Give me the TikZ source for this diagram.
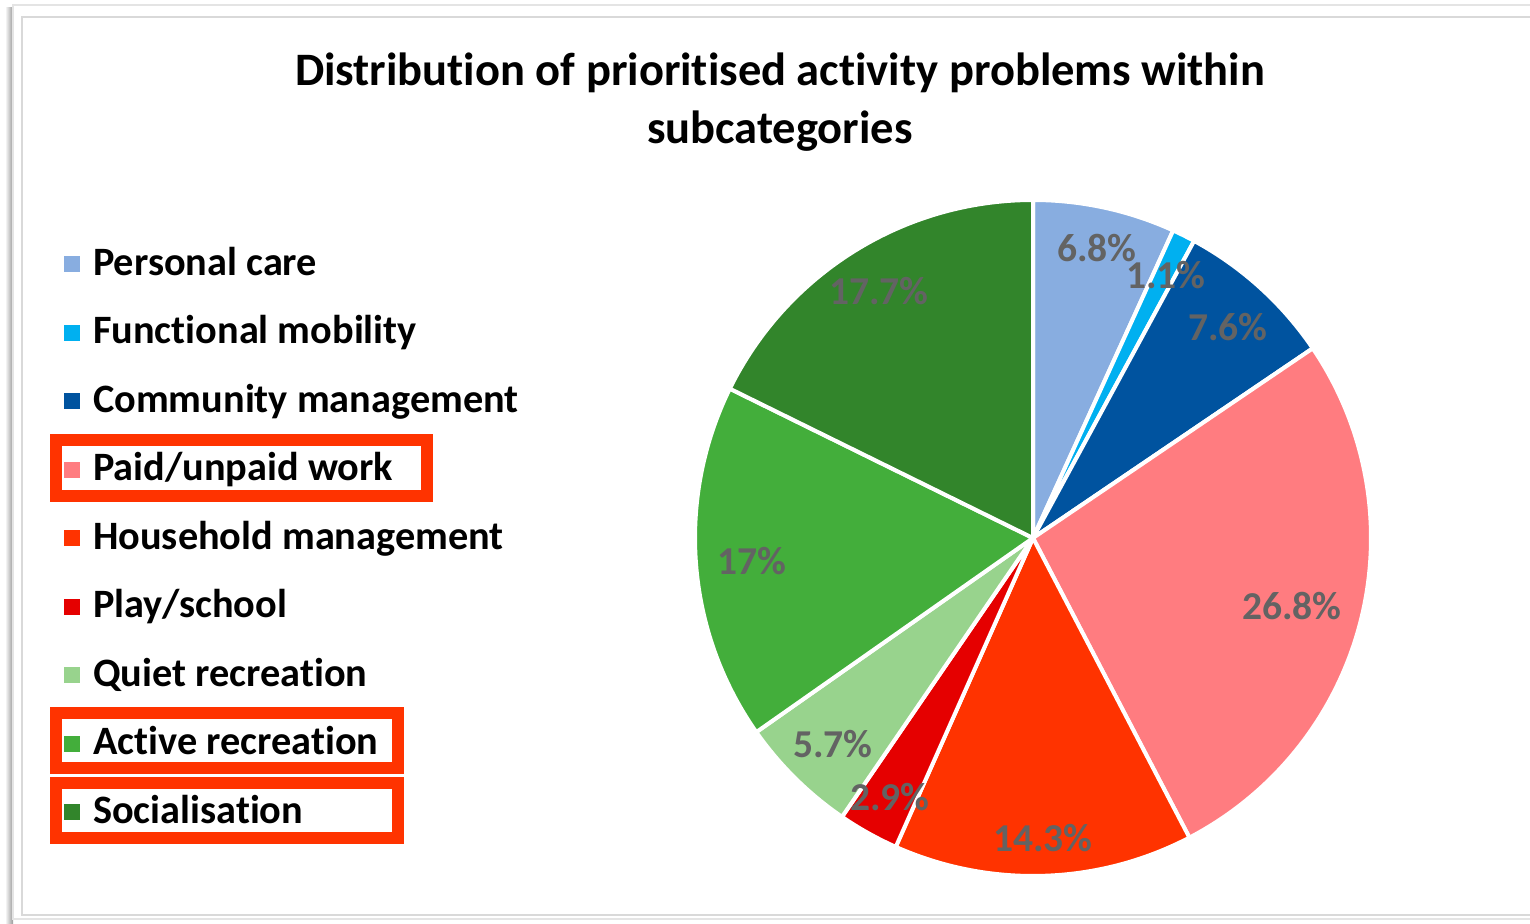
\documentclass[tikz,border=0pt]{standalone}
\usepackage{fontspec}
\setmainfont{Carlito}[RawFeature={-liga;-dlig;-clig}]
\definecolor{pc}{HTML}{88ADE0}
\definecolor{fm}{HTML}{00B0F0}
\definecolor{cm}{HTML}{00539F}
\definecolor{pw}{HTML}{FF7C80}
\definecolor{hm}{HTML}{FF3300}
\definecolor{ps}{HTML}{E50000}
\definecolor{qr}{HTML}{98D38D}
\definecolor{ar}{HTML}{43AE3B}
\definecolor{so}{HTML}{32852B}
\definecolor{lbl}{HTML}{636363}
\definecolor{hl}{HTML}{FF3300}
\definecolor{frame}{HTML}{D9D9D9}
\begin{document}
\begin{tikzpicture}[x=1pt,y=1pt,
  slice/.style={draw=white,line width=4pt,line join=round},
  legtext/.style={anchor=base west,inner sep=0pt,font=\fontsize{40.3}{46}\selectfont\bfseries},
  legsq/.style={minimum size=16pt,inner sep=0pt,outer sep=0pt},
  pct/.style={inner sep=0pt,text=lbl,font=\fontsize{39.5}{45}\selectfont\bfseries},
  titletext/.style={anchor=base,inner sep=0pt,font=\fontsize{46.5}{52}\selectfont\bfseries},
  hlbox/.style={draw=hl,line width=12pt}]
\useasboundingbox (0,0) rectangle (1530,-923);
\clip (0,0) rectangle (1530,-923);
% frame
\shade[left color=white,right color=black!40] (5,-8) rectangle (13,-923);
\draw[frame!70,line width=1.5pt] (13,-5) rectangle (1545,-919);
\draw[frame,line width=2pt] (22,-17) rectangle (1545,-915);
% title
\node[titletext] (t1) at (780,-86) {Distribution of prioritised activity problems within};
\node[titletext] (t2) at (780,-143) {subcategories};
% pie
\coordinate (C) at (1033,-538);
\def\R{338}
\foreach \a/\b/\c in {90/65.50/pc, 65.50/61.53/fm, 61.53/34.14/cm, 34.14/-62.43/pw, -62.43/-113.96/hm, -113.96/-124.41/ps, -124.41/-144.95/qr, -144.95/-206.22/ar, -206.22/-270/so}{
  \filldraw[slice,fill=\c] (C) -- ([shift={(C)}]\a:\R) arc[start angle=\a,end angle=\b,radius=\R] -- cycle;
}
% percentage labels
\node[pct] (l1) at (1097,-248) {6.8\%};
\node[pct] (l2) at (1166,-275) {1.1\%};
\node[pct] (l3) at (1228,-327) {7.6\%};
\node[pct] (l4) at (1292,-606) {26.8\%};
\node[pct] (l5) at (1043,-838) {14.3\%};
\node[pct] (l6) at (890,-797) {2.9\%};
\node[pct] (l7) at (833,-744) {5.7\%};
\node[pct] (l8) at (752,-561) {17\%};
\node[pct] (l9) at (879,-291) {17.7\%};
% legend
\foreach \i/\c/\t in {0/pc/{Personal care}, 1/fm/{Functional mobility}, 2/cm/{Community management}, 3/pw/{Paid/unpaid work}, 4/hm/{Household management}, 5/ps/{Play/school}, 6/qr/{Quiet recreation}, 7/ar/{Active recreation}, 8/so/{Socialisation}}{
  \pgfmathsetmacro{\yb}{-275-68.5*\i}
  \node[legtext] (lt\i) at (93,\yb) {\t};
  \node[legsq,fill=\c] (ls\i) at (72,\yb+11) {};
}
% highlight boxes
\draw[hlbox] (56,-440) rectangle (427,-495.5);
\draw[hlbox] (56,-713) rectangle (398,-768);
\draw[hlbox] (56,-783) rectangle (398,-838);
\end{tikzpicture}
\end{document}
